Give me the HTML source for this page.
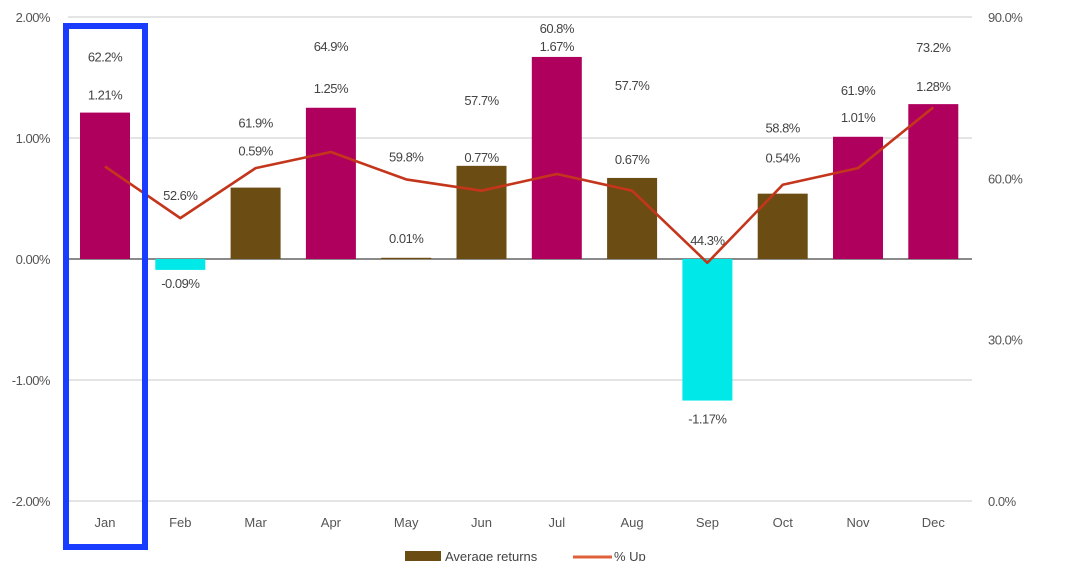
<!DOCTYPE html>
<html><head><meta charset="utf-8"><style>
body{margin:0;background:#fff;}
svg{display:block;font-family:"Liberation Sans",sans-serif;}
</style></head><body>
<svg id="chart" width="1084" height="561"></svg>
<script>
const months=["Jan","Feb","Mar","Apr","May","Jun","Jul","Aug","Sep","Oct","Nov","Dec"];
const avgReturns=[1.21,-0.09,0.59,1.25,0.01,0.77,1.67,0.67,-1.17,0.54,1.01,1.28];
const pctUp=[62.2,52.6,61.9,64.9,59.8,57.7,60.8,57.7,44.3,58.8,61.9,73.2];
const leftTicks=[2,1,0,-1,-2];
const leftTickLabels=["2.00%","1.00%","0.00%","-1.00%","-2.00%"];
const rightTicks=[90,60,30,0];
const rightTickLabels=["90.0%","60.0%","30.0%","0.0%"];
// layout offsets (px) for labels
const retOffsets=[-13,18,-32,-15,-15,-4,-6,-14,23,-31,-15,-13];
const pctOffsets=[-38,0,-28,-42,0,-57,-18,-74,0,-30,-27,-39];

const svg=document.getElementById('chart');
const NS='http://www.w3.org/2000/svg';
function mk(t,a,txt){const e=document.createElementNS(NS,t);for(const k in a)e.setAttribute(k,a[k]);if(txt!==undefined)e.textContent=txt;svg.appendChild(e);return e;}
const yL=v=>259-v*121;
const yR=v=>501-v*(484/90);
const xC=i=>105+i*75.3;
const bw=50;

leftTicks.forEach((t,i)=>{
  const g=mk('line',{x1:68,x2:972,y1:yL(t),y2:yL(t),stroke:t===0?'#444':'#c8c8c8','stroke-width':t===0?1.3:1});
  
  
  const l=mk('text',{x:50,y:yL(t)+5,'text-anchor':'end','font-size':13,fill:'#555','letter-spacing':'-0.5'},leftTickLabels[i]);
  
  
});
rightTicks.forEach((t,i)=>{
  const l=mk('text',{x:988,y:yR(t)+5,'font-size':13,fill:'#555','letter-spacing':'-0.5'},rightTickLabels[i]);
  
  
});
avgReturns.forEach((v,i)=>{
  const col=v<0?'#00e8e8':(v>=1?'#b0005e':'#6b4c12');
  const y0=yL(0),y1=yL(v);
  const b=mk('rect',{x:xC(i)-bw/2,y:Math.min(y0,y1),width:bw,height:Math.max(Math.abs(y1-y0),1.5),fill:col});
  
  
  const ry=(retOffsets[i]<0?Math.min(y0,y1):Math.max(y0,y1))+retOffsets[i];
  const rl=mk('text',{x:xC(i),y:ry,'text-anchor':'middle','font-size':13,fill:'#444','letter-spacing':'-0.5'},v.toFixed(2)+'%');
  
  
  const py=pctOffsets[i]===0?yR(pctUp[i])-18:ry+pctOffsets[i];
  const pl=mk('text',{x:xC(i),y:py,'text-anchor':'middle','font-size':13,fill:'#444','letter-spacing':'-0.5'},pctUp[i].toFixed(1)+'%');
  
  
  const ml=mk('text',{x:xC(i),y:527,'text-anchor':'middle','font-size':13,fill:'#555'},months[i]);
  
  
});
const pts=pctUp.map((p,i)=>xC(i)+','+yR(p)).join(' ');
const ln=mk('polyline',{points:pts,fill:'none',stroke:'#c4361c','stroke-width':2.6,'stroke-linejoin':'round'});


const hl=mk('rect',{x:66,y:26,width:79,height:521,fill:'none',stroke:'#1a3cff','stroke-width':6});


const lg1=mk('rect',{x:405,y:551,width:36,height:14,fill:'#6b4c12'});


const lt1=mk('text',{x:445,y:561,'font-size':13,fill:'#444'},'Average returns');


const lg2=mk('line',{x1:573,x2:612,y1:557,y2:557,stroke:'#e0603a','stroke-width':3});


const lt2=mk('text',{x:614,y:561,'font-size':13,fill:'#444'},'% Up');


</script>
</body></html>
